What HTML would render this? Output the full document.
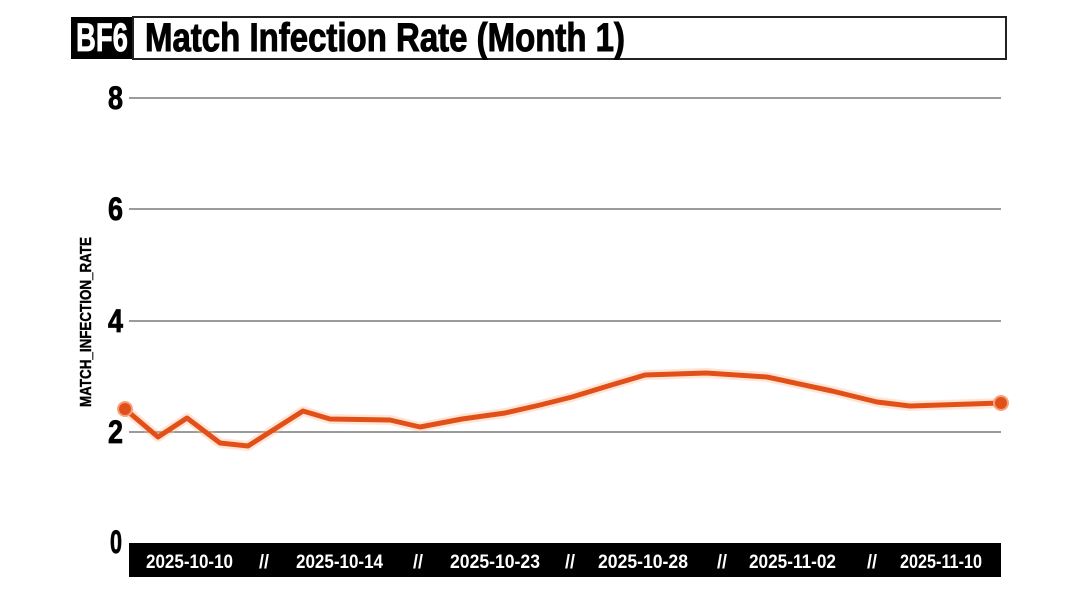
<!DOCTYPE html>
<html><head><meta charset="utf-8"><style>
html,body{margin:0;padding:0;background:#fff;}
svg{display:block;}
text{font-family:"Liberation Sans Narrow","Liberation Sans",sans-serif;font-weight:bold;}
</style></head><body>
<svg width="1080" height="607" viewBox="0 0 1080 607" xmlns="http://www.w3.org/2000/svg">
<rect x="0" y="0" width="1080" height="607" fill="#fff"/>
<!-- title -->
<rect x="71" y="17" width="62" height="42" fill="#000"/>
<rect x="133" y="17" width="873" height="42" fill="#fff" stroke="#222" stroke-width="2"/>
<text x="76" y="51" font-size="40" fill="#fff" stroke="#fff" stroke-width="0.8" textLength="52" lengthAdjust="spacingAndGlyphs">BF6</text>
<text x="145" y="51" font-size="40" fill="#000" stroke="#000" stroke-width="1" textLength="480" lengthAdjust="spacingAndGlyphs">Match Infection Rate (Month 1)</text>
<!-- grid -->
<g stroke="#7a7a7a" stroke-width="1.5">
<line x1="129" y1="98" x2="1001" y2="98"/>
<line x1="129" y1="209" x2="1001" y2="209"/>
<line x1="129" y1="321" x2="1001" y2="321"/>
<line x1="129" y1="432" x2="1001" y2="432"/>
</g>
<!-- y labels -->
<g font-size="32" fill="#000" stroke="#000" stroke-width="0.8" text-anchor="end">
<text x="123" y="109" textLength="15" lengthAdjust="spacingAndGlyphs">8</text>
<text x="123" y="220" textLength="15" lengthAdjust="spacingAndGlyphs">6</text>
<text x="123" y="332" textLength="15" lengthAdjust="spacingAndGlyphs">4</text>
<text x="123" y="443" textLength="15" lengthAdjust="spacingAndGlyphs">2</text>
<text x="122" y="553" textLength="12" lengthAdjust="spacingAndGlyphs">0</text>
</g>
<text transform="translate(91,322) rotate(-90)" x="0" y="0" font-size="16" fill="#000" stroke="#000" stroke-width="0.4" text-anchor="middle" textLength="170" lengthAdjust="spacingAndGlyphs">MATCH_INFECTION_RATE</text>
<!-- x axis bar -->
<rect x="129" y="543" width="872" height="34" fill="#000"/>
<g font-size="19" fill="#fff">
<text x="146" y="568" textLength="87" lengthAdjust="spacingAndGlyphs">2025-10-10</text>
<text x="296" y="568" textLength="87" lengthAdjust="spacingAndGlyphs">2025-10-14</text>
<text x="450" y="568" textLength="90" lengthAdjust="spacingAndGlyphs">2025-10-23</text>
<text x="598" y="568" textLength="90" lengthAdjust="spacingAndGlyphs">2025-10-28</text>
<text x="749" y="568" textLength="87" lengthAdjust="spacingAndGlyphs">2025-11-02</text>
<text x="900" y="568" textLength="82" lengthAdjust="spacingAndGlyphs">2025-11-10</text>
<text x="259" y="568" textLength="10" lengthAdjust="spacingAndGlyphs">//</text>
<text x="413" y="568" textLength="10" lengthAdjust="spacingAndGlyphs">//</text>
<text x="565" y="568" textLength="10" lengthAdjust="spacingAndGlyphs">//</text>
<text x="717" y="568" textLength="10" lengthAdjust="spacingAndGlyphs">//</text>
<text x="867" y="568" textLength="10" lengthAdjust="spacingAndGlyphs">//</text>
</g>
<!-- series -->
<polyline fill="none" stroke="#ffb48a" stroke-opacity="0.35" stroke-width="10" stroke-linejoin="round" stroke-linecap="round"
points="125,409 158,437 187,418 220,443 248,446 303,411 330,419 390,420 420,427 462,419 505,413 540,405 572,397 608,386 645,375 706,373 767,377 832,391 877,402 910,406 1001,403"/>
<polyline fill="none" stroke="#e2501a" stroke-width="5" stroke-linejoin="round" stroke-linecap="round"
points="125,409 158,437 187,418 220,443 248,446 303,411 330,419 390,420 420,427 462,419 505,413 540,405 572,397 608,386 645,375 706,373 767,377 832,391 877,402 910,406 1001,403"/>
<circle cx="125" cy="409" r="7" fill="#e2501a" stroke="#f4a27e" stroke-width="2"/>
<circle cx="1001" cy="403" r="7" fill="#e2501a" stroke="#f4a27e" stroke-width="2"/>
</svg>
</body></html>
